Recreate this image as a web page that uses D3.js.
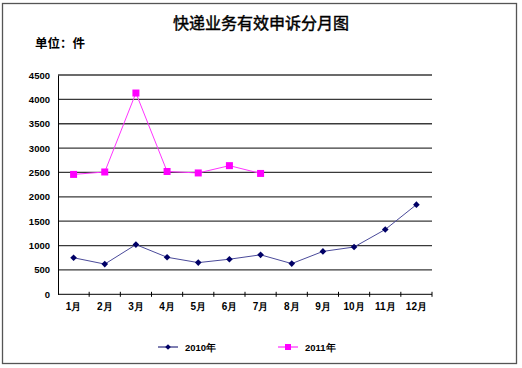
<!DOCTYPE html>
<html><head><meta charset="utf-8">
<script src="https://cdn.jsdelivr.net/npm/d3@7/dist/d3.min.js"></script>
<style>body{margin:0;background:#fff}svg{display:block}</style>
</head><body>
<svg id="c" width="522" height="368"></svg>
<script>
const months = ["1月","2月","3月","4月","5月","6月","7月","8月","9月","10月","11月","12月"];
const values2010 = [750, 620, 1020, 760, 650, 720, 810, 630, 880, 970, 1330, 1840];
const values2011 = [2460, 2510, 4130, 2520, 2490, 2640, 2480];
const yTicks = [0, 500, 1000, 1500, 2000, 2500, 3000, 3500, 4000, 4500];
const seriesNames = ["2010年", "2011年"];
const title = "快递业务有效申诉分月图";
const unitLabel = "单位：件";

const svg = d3.select("#c");
const L = 58, R = 432, T = 75, B = 294.3;
const x = d3.scaleBand().domain(months).range([L, R]);
const y = d3.scaleLinear().domain([0, 4500]).range([B, T]);
const font = "'Liberation Sans', Arial, sans-serif";
const cjk = "'Noto Sans CJK SC', sans-serif";

svg.append("rect").attr("x", 2.5).attr("y", 3.5).attr("width", 514).attr("height", 360)
  .attr("fill", "#fff").attr("stroke", "#555").attr("stroke-width", 1.3);

svg.append("text").attr("x", 261).attr("y", 29).attr("text-anchor", "middle")
  .attr("font-family", cjk).attr("font-size", 16).attr("font-weight", "normal")
  .attr("stroke", "#000").attr("stroke-width", 0.45).attr("fill", "#000").text(title);
svg.append("text").attr("x", 35).attr("y", 48)
  .attr("font-family", cjk).attr("font-size", 12.5).attr("font-weight", "bold").attr("fill", "#000").text(unitLabel);

// gridlines
svg.append("g").selectAll("line").data(yTicks.filter(d => d > 0)).join("line")
  .attr("x1", L).attr("x2", R).attr("y1", d => y(d)).attr("y2", d => y(d))
  .attr("stroke", "#3a3a3a").attr("stroke-width", 1.3);

// y axis
const ya = svg.append("g").attr("transform", `translate(${L},0)`)
  .call(d3.axisLeft(y).tickValues(yTicks).tickSize(0).tickPadding(8).tickFormat(d3.format("d")));
ya.select(".domain").attr("stroke", "#000").attr("stroke-width", 1);
ya.selectAll("text").attr("font-family", font).attr("font-size", 9.5).attr("font-weight", "bold").attr("fill", "#000");

// x axis
const xa = svg.append("g").attr("transform", `translate(0,${B})`)
  .call(d3.axisBottom(x).tickSize(0).tickPadding(9));
xa.select(".domain").remove();
xa.selectAll("text").attr("font-family", font).attr("font-size", 10).attr("font-weight", "bold").attr("fill", "#000");
svg.append("line").attr("x1", L).attr("x2", R).attr("y1", B).attr("y2", B).attr("stroke", "#000").attr("stroke-width", 1);
const bounds = months.map(m => x(m)).concat([R]).slice(1);
svg.append("g").selectAll("line").data(bounds).join("line")
  .attr("x1", d => d).attr("x2", d => d).attr("y1", B - 2.5).attr("y2", B + 2.5)
  .attr("stroke", "#000").attr("stroke-width", 1);

const cx = (d, i) => x(months[i]) + x.bandwidth() / 2;
const line = d3.line().x(cx).y(d => y(d));

// 2010
svg.append("path").datum(values2010).attr("d", line).attr("fill", "none")
  .attr("stroke", "#4a4a9a").attr("stroke-width", 1);
svg.append("g").selectAll("path").data(values2010).join("path")
  .attr("d", d3.symbol().type(d3.symbolSquare).size(22))
  .attr("transform", (d, i) => `translate(${cx(d, i)},${y(d)}) rotate(45)`)
  .attr("fill", "#000066");

// 2011
svg.append("path").datum(values2011).attr("d", line).attr("fill", "none")
  .attr("stroke", "#ff33ff").attr("stroke-width", 1);
svg.append("g").selectAll("rect").data(values2011).join("rect")
  .attr("x", (d, i) => cx(d, i) - 3.5).attr("y", d => y(d) - 3.5)
  .attr("width", 7).attr("height", 7).attr("fill", "#ff00ff");

// legend
const lg = svg.append("g");
const ly = 347;
lg.append("line").attr("x1", 158).attr("x2", 178).attr("y1", ly).attr("y2", ly).attr("stroke", "#000066").attr("stroke-width", 1);
lg.append("path").attr("d", d3.symbol().type(d3.symbolSquare).size(16)).attr("transform", `translate(168,${ly}) rotate(45)`).attr("fill", "#000066");
lg.append("text").attr("x", 185).attr("y", ly + 4).attr("font-family", font).attr("font-size", 9.5).attr("font-weight", "bold").text(seriesNames[0]);
lg.append("line").attr("x1", 278).attr("x2", 298).attr("y1", ly).attr("y2", ly).attr("stroke", "#ff00ff").attr("stroke-width", 1);
lg.append("rect").attr("x", 285).attr("y", ly - 3).attr("width", 6).attr("height", 6).attr("fill", "#ff00ff");
lg.append("text").attr("x", 305).attr("y", ly + 4).attr("font-family", font).attr("font-size", 9.5).attr("font-weight", "bold").text(seriesNames[1]);
</script>
</body></html>
